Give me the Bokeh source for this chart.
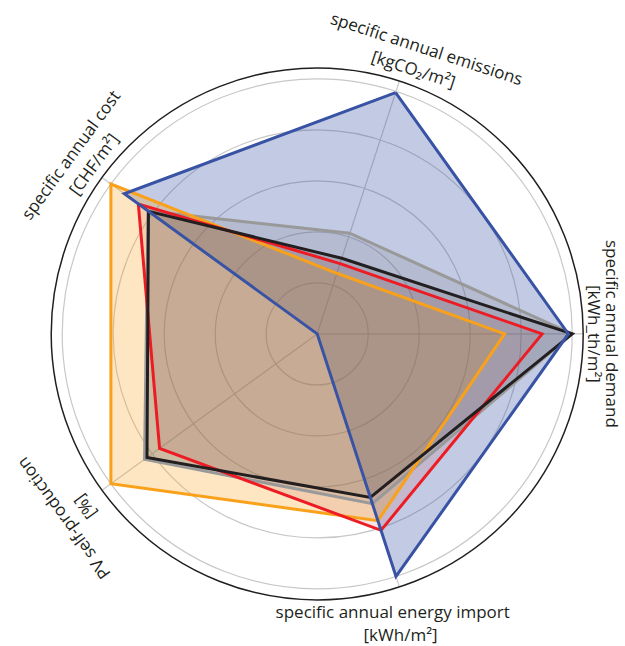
import numpy as np
from bokeh.plotting import figure
from bokeh.models import Range1d
from bokeh.core.properties import value
from bokeh.embed import file_html
from bokeh.resources import INLINE

# ---- data ----
axis_titles = ["specific annual emissions", "specific annual demand",
               "specific annual energy import", "PV self-production",
               "specific annual cost"]
axis_units = ["[kgCO\u2082/m\u00b2]", "[kWh_th/m\u00b2]", "[kWh/m\u00b2]", "[%]", "[CHF/m\u00b2]"]
axis_angles_deg = [72, 0, -72, -144, 144]
ring_levels = [0.2, 0.4, 0.6, 0.8, 1.0]

series_blue = [0.995, 0.985, 1.0, 0.0, 0.935]
series_orange = [0.25, 0.735, 0.77, 1.0, 1.0]
series_red = [0.29, 0.882, 0.81, 0.764, 0.867]
series_gray = [0.415, 1.0, 0.70, 0.837, 0.82]
series_black = [0.312, 1.0, 0.674, 0.825, 0.818]

# ---- layout / style ----
R = 255.0          # pixel radius of value 1.0
R_OUTER = 266.0    # black frame circle
W, H = 625, 646
CX, CY = 316.7, 333.4   # centre in plot pixels

FONT = value("Open Sans")
TXT = "#231f20"

p = figure(width=W, height=H, output_backend="svg", toolbar_location=None,
           x_range=Range1d(-CX, W - CX), y_range=Range1d(-(H - CY), CY),
           min_border=0, outline_line_color=None, background_fill_color="white",
           border_fill_color="white")
p.axis.visible = False
p.xgrid.visible = False
p.ygrid.visible = False

ang = np.deg2rad(axis_angles_deg)

# grid rings
p.circle(x=[0] * len(ring_levels), y=[0] * len(ring_levels),
         radius=[R * l for l in ring_levels], fill_color=None,
         line_color="#c8c8c8", line_width=1.2)
# spokes
p.segment(x0=[0] * 5, y0=[0] * 5, x1=list(R_OUTER * np.cos(ang)), y1=list(R_OUTER * np.sin(ang)),
          line_color="#c8c8c8", line_width=1.2)
# outer frame
p.circle(x=[0], y=[0], radius=[R_OUTER], fill_color=None, line_color="#231f20", line_width=1.5)

series = [
    (series_blue, "#3953a4", "#3953a4", 0.30),
    (series_orange, "#f9a11b", "#f9a11b", 0.27),
    (series_red, "#ed1c24", "#c0504d", 0.15),
    (series_gray, "#999999", "#7a7a7a", 0.18),
    (series_black, "#231f20", "#231f20", 0.12),
]

def poly(vals):
    v = np.array(vals) * R
    return list(v * np.cos(ang)), list(v * np.sin(ang))

for vals, lc, fc, fa in series:
    xs, ys = poly(vals)
    p.patch(xs, ys, fill_color=fc, fill_alpha=fa, line_color=None)

for idx in [3, 1, 2, 4, 0]:
    vals, lc, fc, fa = series[idx]
    xs, ys = poly(vals)
    p.line(xs + xs[:1], ys + ys[:1], line_color=lc, line_width=3, line_join="miter")

# labels: (angle of position, radius) for title and unit, plus text rotation
title_pos = [(69.0, 306), (0.0, 295.5), (-74.8, 288), (-144.0, 314), (144.0, 305)]
unit_pos = [(70.0, 282), (0.0, 277), (-74.5, 312), (-143.3, 290), (142.8, 281)]
rot = [-18, -90, 0, 126, 54]

for i in range(5):
    for txt, (a, r) in ((axis_titles[i], title_pos[i]), (axis_units[i], unit_pos[i])):
        ar = np.deg2rad(a)
        p.text(x=[r * np.cos(ar)], y=[r * np.sin(ar)], text=[txt],
               angle=np.deg2rad(rot[i]), text_align="center", text_baseline="middle",
               text_font=FONT, text_font_size="17px", text_color=TXT)

open("out.html", "w").write(file_html(p, INLINE))
